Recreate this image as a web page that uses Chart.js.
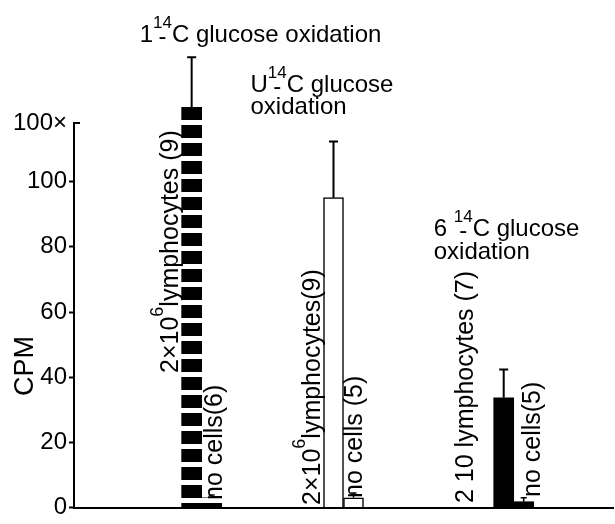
<!DOCTYPE html>
<html>
<head>
<meta charset="utf-8">
<script src="https://cdn.jsdelivr.net/npm/chart.js@4"></script>
<style>
  html, body { margin: 0; padding: 0; background: #fff; }
  #wrap { width: 615px; height: 524px; }
</style>
</head>
<body>
<div id="wrap"><canvas id="grafico" width="615" height="524"></canvas></div>
<script>
// Dados (CPM, escala "100×")
const grupos = ['1-14C glucose oxidation', 'U-14C glucose oxidation', '6-14C glucose oxidation'];
const linfocitos = [122.8, 95.1, 33.7];       // 2×10^6 lymphocytes
const linfocitosErro = [15.4, 17.2, 8.7];
const semCelulas = [3.0, 3.0, 1.8];           // no cells
const semCelulasErro = [0.9, 1.5, 1.2];
const nLinfocitos = [9, 9, 7];
const nSemCelulas = [6, 5, 5];
const yTicks = [0, 20, 40, 60, 80, 100];
const yTopo = 118;
const yTopoLabel = '100×';

// Textos dos grupos (partes com sobrescrito)
const titulos = [
    [[{ t: '1' }, { t: '14', sup: true, dash: true }, { t: 'C glucose oxidation' }]],
    [[{ t: 'U' }, { t: '14', sup: true, dash: true }, { t: 'C glucose' }], [{ t: 'oxidation' }]],
    [[{ t: '6 ' }, { t: '14', sup: true, dash: true }, { t: 'C glucose' }], [{ t: 'oxidation' }]]
];
const rotulosLinf = [
    [{ t: '2×10' }, { t: '6', sup: true }, { t: 'lymphocytes (' + nLinfocitos[0] + ')' }],
    [{ t: '2×10' }, { t: '6', sup: true }, { t: 'lymphocytes(' + nLinfocitos[1] + ')' }],
    [{ t: '2 10 lymphocytes (' + nLinfocitos[2] + ')' }]
];
const rotulosSem = [
    'no cells(' + nSemCelulas[0] + ')',
    'no cells (' + nSemCelulas[1] + ')',
    'no cells(' + nSemCelulas[2] + ')'
];

// Layout: posições das categorias no eixo e deslocamentos das anotações
const totalSlots = 19;
const slots = [4, 9, 15];
const tituloDx = [-52, -83, -70];
const tituloY = [[42], [92, 114], [236, 259]];
const linfDx = [-4, -3.5, -21];
const linfY = [373, 505, 503];
const semDx = [0, -1.5, 6];
const semY = [500, 498, 497];
const FONTE = '"Liberation Sans", Arial, sans-serif';

const labels = Array.from({ length: totalSlots }, () => '');
const porSlot = vals => labels.map((_, i) => {
    const g = slots.indexOf(i);
    return g < 0 ? null : vals[g];
});

// Padrão de barra segmentada (grupo 1)
const ctxPrincipal = document.getElementById('grafico').getContext('2d');
const tile = document.createElement('canvas');
tile.width = 4; tile.height = 18;
const tg = tile.getContext('2d');
tg.fillStyle = '#000';
tg.fillRect(0, 0, 4, 13);
const padrao = ctxPrincipal.createPattern(tile, 'repeat');
padrao.setTransform(new DOMMatrix([1, 0, 0, 1, 0, -1]));

const preenchimentos = [padrao, '#fff', '#000'];
const bordas = [0, 1.5, 0];

function desenharRico(ctx, partes, x, y, size) {
    partes.forEach(p => {
        if (p.sup) {
            const small = Math.round(size * 0.7) + 'px ' + FONTE;
            ctx.font = small;
            const w = ctx.measureText(p.t).width;
            if (p.dash) {
                ctx.font = size + 'px ' + FONTE;
                const dw = ctx.measureText('-').width;
                ctx.fillText('-', x + (w - dw) / 2, y + size * 0.1);
                ctx.font = small;
            }
            ctx.fillText(p.t, x, y - size * 0.6);
            x += w;
        } else {
            ctx.font = size + 'px ' + FONTE;
            ctx.fillText(p.t, x, y);
            x += ctx.measureText(p.t).width;
        }
    });
}

// Barras de erro (só para cima)
const barrasErro = {
    id: 'barrasErro',
    afterDatasetsDraw(chart) {
        const ctx = chart.ctx;
        const y = chart.scales.y;
        [[0, linfocitosErro, 9, 2], [1, semCelulasErro, 6, 1.5]].forEach(([di, erros, cap, lw]) => {
            const meta = chart.getDatasetMeta(di);
            const dados = chart.data.datasets[di].data;
            slots.forEach((slot, g) => {
                const bar = meta.data[slot];
                const topo = y.getPixelForValue(dados[slot] + erros[g]);
                ctx.save();
                ctx.strokeStyle = '#000';
                ctx.lineWidth = lw;
                ctx.beginPath();
                ctx.moveTo(bar.x, bar.y);
                ctx.lineTo(bar.x, topo);
                ctx.moveTo(bar.x - cap / 2, topo);
                ctx.lineTo(bar.x + cap / 2, topo);
                ctx.stroke();
                ctx.restore();
            });
        });
    }
};

// Textos: títulos, rótulos verticais, CPM
const anotacoes = {
    id: 'anotacoes',
    afterDraw(chart) {
        const ctx = chart.ctx;
        const y = chart.scales.y;
        const area = chart.chartArea;
        const metaL = chart.getDatasetMeta(0);
        const metaS = chart.getDatasetMeta(1);
        ctx.save();
        ctx.fillStyle = '#000';
        ctx.textBaseline = 'alphabetic';
        ctx.textAlign = 'left';

        // marca do topo do eixo
        const yt = y.getPixelForValue(yTopo);
        ctx.strokeStyle = '#000';
        ctx.lineWidth = 2;
        ctx.beginPath();
        ctx.moveTo(area.left - 1, yt);
        ctx.lineTo(area.left + 6, yt);
        ctx.stroke();

        slots.forEach((slot, g) => {
            const bl = metaL.data[slot];
            const bs = metaS.data[slot];
            titulos[g].forEach((linha, k) => desenharRico(ctx, linha, bl.x + tituloDx[g], tituloY[g][k], 24));

            ctx.save();
            ctx.translate(bl.x - bl.width / 2 + linfDx[g], linfY[g]);
            ctx.rotate(-Math.PI / 2);
            desenharRico(ctx, rotulosLinf[g], 0, 0, 25);
            ctx.restore();

            ctx.save();
            ctx.translate(bs.x + bs.width / 2 + semDx[g], semY[g]);
            ctx.rotate(-Math.PI / 2);
            desenharRico(ctx, [{ t: rotulosSem[g] }], 0, 0, 25);
            ctx.restore();
        });

        ctx.save();
        ctx.translate(33, 366);
        ctx.rotate(-Math.PI / 2);
        ctx.textAlign = 'center';
        ctx.font = '27px ' + FONTE;
        ctx.fillText('CPM', 0, 0);
        ctx.restore();
        ctx.restore();
    }
};

const chart = new Chart(ctxPrincipal, {
    type: 'bar',
    data: {
        labels: labels,
        datasets: [
            {
                label: '2×10^6 lymphocytes',
                data: porSlot(linfocitos),
                backgroundColor: c => preenchimentos[slots.indexOf(c.dataIndex)] || '#000',
                borderWidth: c => bordas[slots.indexOf(c.dataIndex)] || 0,
                borderColor: '#000',
                barThickness: 20,
                clip: false
            },
            {
                label: 'no cells',
                data: porSlot(semCelulas),
                backgroundColor: c => preenchimentos[slots.indexOf(c.dataIndex)] || '#000',
                borderWidth: c => bordas[slots.indexOf(c.dataIndex)] || 0,
                borderColor: '#000',
                barThickness: 20,
                clip: false
            }
        ]
    },
    options: {
        responsive: false,
        animation: false,
        events: [],
        layout: { padding: { top: 123, right: 2, left: 0, bottom: 0 } },
        plugins: {
            legend: { display: false },
            tooltip: { enabled: false }
        },
        scales: {
            x: {
                offset: true,
                grid: { display: false },
                ticks: { display: false },
                border: { display: true, color: '#000', width: 2 },
                afterFit: s => { s.height = 9; }
            },
            y: {
                min: 0,
                max: yTopo,
                afterBuildTicks: s => { s.ticks = yTicks.concat([yTopo]).map(v => ({ value: v })); },
                afterFit: s => { s.width = 74; },
                ticks: {
                    color: '#000',
                    padding: 2,
                    font: { family: FONTE, size: 24 },
                    callback: v => v === yTopo ? yTopoLabel : v
                },
                grid: {
                    drawOnChartArea: false,
                    drawTicks: true,
                    tickLength: 5,
                    tickWidth: 2,
                    tickColor: c => (c.tick && c.tick.value === yTopo) ? 'rgba(0,0,0,0)' : '#000'
                },
                border: { display: true, color: '#000', width: 2 }
            }
        }
    },
    plugins: [barrasErro, anotacoes]
});
</script>
</body>
</html>
